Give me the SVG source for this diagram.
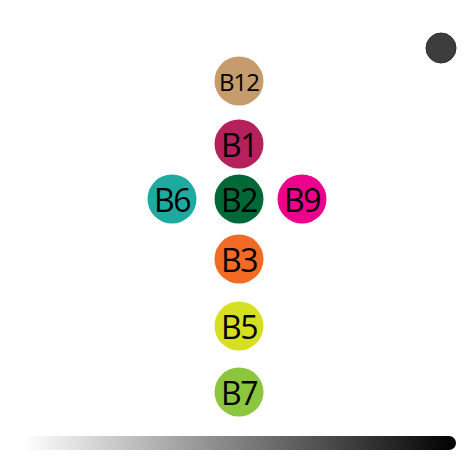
<svg xmlns="http://www.w3.org/2000/svg" width="474" height="474" viewBox="0 0 474 474">
<defs>
<linearGradient id="g" x1="0" y1="0" x2="1" y2="0">
<stop offset="0" stop-color="#ffffff"/>
<stop offset="1" stop-color="#000000"/>
</linearGradient>
<style>
text{font-family:"Open Sans","Noto Sans",sans-serif;fill:#000;text-anchor:middle;dominant-baseline:central}
.b{font-size:32px;letter-spacing:-1.5px}
.s{font-size:24px;letter-spacing:-1px}
</style>
</defs>
<rect width="474" height="474" fill="#fff"/>
<g id="connectors"></g>
<g id="B12"><circle cx="239" cy="81" r="24.5" fill="#c69c6d"/><text class="s" x="239" y="81">B12</text></g>
<g id="B1"><circle cx="239" cy="144" r="24.5" fill="#b5215d"/><text class="b" x="239" y="144">B1</text></g>
<g id="B6"><circle cx="172" cy="199" r="24.5" fill="#1eaaa1"/><text class="b" x="172" y="199">B6</text></g>
<g id="B2"><circle cx="239" cy="199" r="24.5" fill="#006837"/><text class="b" x="239" y="199">B2</text></g>
<g id="B9"><circle cx="302" cy="199" r="24.5" fill="#ec008c"/><text class="b" x="302" y="199">B9</text></g>
<g id="B3"><circle cx="239" cy="259" r="24.5" fill="#f36a25"/><text class="b" x="239" y="259">B3</text></g>
<g id="B5"><circle cx="239" cy="326" r="24.5" fill="#d7df23"/><text class="b" x="239" y="326">B5</text></g>
<g id="B7"><circle cx="239" cy="392" r="24.5" fill="#8cc63f"/><text class="b" x="239" y="392">B7</text></g>
<g id="dot"><circle cx="441" cy="48" r="15" fill="#3d3d3d" stroke="#2a2a2a" stroke-width="1"/></g>
<g id="bar"><rect x="24" y="436" width="432" height="14" rx="7" fill="url(#g)"/></g>
</svg>
